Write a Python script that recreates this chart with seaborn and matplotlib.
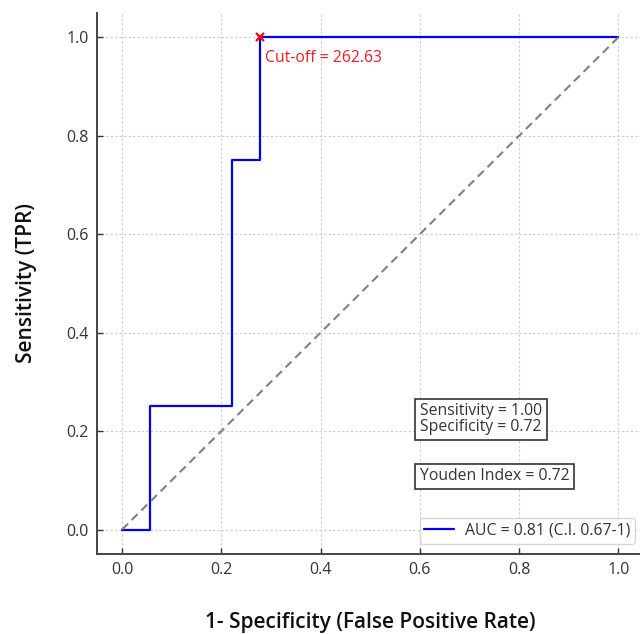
import matplotlib
matplotlib.use("Agg")
import matplotlib.pyplot as plt
import seaborn as sns
import pandas as pd

# ROC step points
fpr = [0.0, 0.0556, 0.0556, 0.2222, 0.2222, 0.2778, 0.2778, 1.0]
tpr = [0.0, 0.0, 0.25, 0.25, 0.75, 0.75, 1.0, 1.0]
diag_x = [0.0, 1.0]
diag_y = [0.0, 1.0]
cutoff_point = (0.2778, 1.0)
cutoff_label = "Cut-off = 262.63"
legend_label = "AUC = 0.81 (C.I. 0.67-1)"
box1_text = "Sensitivity = 1.00\nSpecificity = 0.72"
box2_text = "Youden Index = 0.72"
xticks = [0.0, 0.2, 0.4, 0.6, 0.8, 1.0]
yticks = [0.0, 0.2, 0.4, 0.6, 0.8, 1.0]

sns.set_style("white")
plt.rcParams['font.family'] = ['Open Sans', 'DejaVu Sans']

fig = plt.figure(figsize=(6.4, 6.34), dpi=100)
ax = fig.add_axes([0.152, 0.126, 0.853, 0.854])

df = pd.DataFrame({"fpr": fpr, "tpr": tpr})
sns.lineplot(data=df, x="fpr", y="tpr", sort=False, color="#0000ee", lw=1.6,
             label=legend_label, ax=ax, estimator=None)
sns.lineplot(x=diag_x, y=diag_y, color="gray", lw=1.5, linestyle=(0, (4, 2.5)),
             ax=ax, estimator=None)
ax.plot([cutoff_point[0]], [cutoff_point[1]], marker="x", color="red",
        markersize=6, mew=1.6, linestyle="none")
ax.text(cutoff_point[0] + 0.01, cutoff_point[1] - 0.043, cutoff_label,
        color="#e8202a", fontsize=11.3, va="center", ha="left")

ax.text(0.6, 0.224, box1_text, fontsize=11.3, va="center", ha="left",
        color="#333333", linespacing=1.0,
        bbox=dict(boxstyle="square,pad=0.3", fc="white", ec="#333333", lw=1.2))
ax.text(0.6, 0.108, box2_text, fontsize=11.3, va="center", ha="left",
        color="#333333",
        bbox=dict(boxstyle="square,pad=0.3", fc="white", ec="#333333", lw=1.2))

ax.set_xlim(-0.05, 1.05)
ax.set_ylim(-0.05, 1.05)
ax.set_xticks(xticks)
ax.set_yticks(yticks)
ax.set_xticklabels([f"{t:.1f}" for t in xticks])
ax.set_yticklabels([f"{t:.1f}" for t in yticks])
ax.tick_params(direction="in", length=4, width=1, labelsize=11.5,
               colors="#333333", pad=6, left=True, bottom=True)
ax.grid(True, linestyle=(0, (2, 2)), color="#cccccc", lw=0.8)
for s in ["top", "right"]:
    ax.spines[s].set_visible(False)
for s in ["left", "bottom"]:
    ax.spines[s].set_color("#444444")
    ax.spines[s].set_linewidth(1.4)

ax.set_xlabel("1- Specificity (False Positive Rate)", fontsize=15,
              fontweight="semibold", labelpad=24, color="#111111")
ax.set_ylabel("Sensitivity (TPR)", fontsize=15, fontweight="semibold",
              labelpad=21, color="#111111")

leg = ax.legend(loc="lower right", fontsize=11.3, frameon=True, fancybox=True,
                bbox_to_anchor=(1.0, 0.005), handlelength=1.9,
                handletextpad=0.7, borderpad=0.3)
leg.get_frame().set_edgecolor("#cccccc")
for t in leg.get_texts():
    t.set_color("#333333")

fig.savefig("out.png", dpi=100)
